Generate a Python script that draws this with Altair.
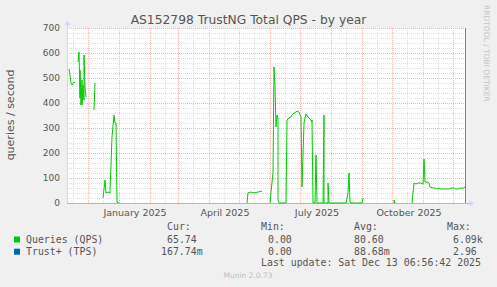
import altair as alt
import pandas as pd

# ---------------- data ----------------
BASE = "2025-01-01"
# days since 2025-01-01 and Queries (QPS) values; None marks a gap (no data)
qps_day = [-50, -49, -48, -47, -45.5, -44.5, -43.5, None,
           -41, -40, -39, -38.3, -37.6, -37, -36.3, -35.6, -35, -34.3, -33.3, -32.6, None,
           -25, -24, None,
           -16, -14, -12.3, -10.6, -9, -8.3, -7, -5, -4, -3, -1.6, 0, None,
           128.4, 129, 132.4, 135, 138.7, 143.4, None,
           151, 152.4, 153.7, 155.2, 156, 156.7, 157.7, 158.7, 159.4, 160, 166.7, 167.7,
           170, 171.7, 173.4, 175, 176.7, 178.4, 180, 181.7, 182.4, 183.4, 184.7, 185.7,
           187.2, 189, 190.7, 192.7, 193.4, 194, 196.4, 197, 197.7, 204, 204.7, 205.4,
           209, 209.4, 210, 226.7, 229, 230, 230.7, 231.7, 243.4, 244, None,
           274.4, 275, 275.7, None,
           292.7, 295, 296.7, 299, 301.7, 303.4, 305, 306, 307.7, 309.4, 311, 313.4,
           315.7, 317.7, 319.7, 321.7, 325, 327.7, 329.7, 331.7, 335, 336.7, 338.7,
           340.7, 343.4, 346.7]
qps_val = [535, 512, 479, 472, 479, 485, 481, None,
           565, 605, 419, 532, 392, 492, 392, 472, 412, 592, 465, 425, None,
           372, 479, None,
           19, 92, 39, 45, 39, 44, 265, 352, 319, 319, 5, 0, None,
           0, 39, 45, 41, 44, 49, None,
           0, 45, 120, 545, 465, 305, 352, 340, 12, 0, 0, 332,
           339, 345, 352, 361, 365, 368, 365, 345, 339, 65, 319, 339,
           357, 345, 335, 325, 332, 0, 0, 192, 0, 0, 352, 0,
           0, 79, 0, 0, 39, 119, 5, 0, 0, 19, None,
           0, 12, 0, None,
           0, 79, 76, 79, 79, 76, 175, 85, 85, 79, 65, 59,
           60, 58, 59, 57, 56, 58, 57, 59, 59, 55, 57,
           59, 61, 65]

series_names = ["Queries (QPS)", "Trust+ (TPS)"]
series_colors = ["#00CC00", "#0066B3"]
cur_vals = ["65.74", "167.74m"]
min_vals = ["0.00", "0.00"]
avg_vals = ["80.60", "88.68m"]
max_vals = ["6.09k", "2.96"]

y_ticks = [0, 100, 200, 300, 400, 500, 600, 700]
y_minor = [v for v in range(20, 700, 20) if v % 100 != 0]
month_starts = ["2024-12-01", "2025-01-01", "2025-02-01", "2025-03-01", "2025-04-01",
                "2025-05-01", "2025-06-01", "2025-07-01", "2025-08-01", "2025-09-01",
                "2025-10-01", "2025-11-01", "2025-12-01"]
mid_months = ["2024-11-16", "2024-12-16", "2025-01-16", "2025-02-16", "2025-03-16",
              "2025-04-16", "2025-05-16", "2025-06-16", "2025-07-16", "2025-08-16",
              "2025-09-16", "2025-10-16", "2025-11-16"]
x_label_dates = ["2025-01-17T12:00:00", "2025-04-17T12:00:00",
                 "2025-07-18T00:00:00", "2025-10-18T00:00:00"]
x_labels = ["January 2025", "April 2025", "July 2025", "October 2025"]

# ---------------- tables ----------------
base = pd.Timestamp(BASE)
rows = []
seg = 0
for d, v in zip(qps_day, qps_val):
    if v is None:
        seg += 1
        continue
    rows.append({"t": (base + pd.Timedelta(days=d)).strftime("%Y-%m-%dT%H:%M:%S"),
                 "v": v, "seg": seg})
qps_df = pd.DataFrame(rows)

W, H = 399, 175
xscale = alt.Scale(domain=[alt.DateTime(year=2024, month=11, date=10, hours=12),
                           alt.DateTime(year=2025, month=12, date=13, hours=18)],
                   round=True)
yscale = alt.Scale(domain=[0, 700], nice=False, zero=True, round=True)
FONT = "DejaVu Sans"
MONO = "DejaVu Sans Mono"
TXT = "#555555"
one = pd.DataFrame({"a": [0]})

GRAY = "#e0e0e0"
RED = "#f2b8b8"
minor_h = alt.Chart(pd.DataFrame({"y": y_minor})).mark_rule(
    color=GRAY, strokeDash=[1, 1], strokeWidth=1, yOffset=0.5).encode(
    y=alt.Y("y:Q", scale=yscale, axis=None))
major_h = alt.Chart(pd.DataFrame({"y": y_ticks[1:]})).mark_rule(
    color=RED, strokeDash=[1, 1], strokeWidth=1, yOffset=0.5).encode(
    y=alt.Y("y:Q", scale=yscale, axis=None))
minor_v = alt.Chart(pd.DataFrame({"t": mid_months})).mark_rule(
    color=GRAY, strokeDash=[1, 1], strokeWidth=1, xOffset=0.5).encode(
    x=alt.X("t:T", scale=xscale, axis=None))
major_v = alt.Chart(pd.DataFrame({"t": month_starts})).mark_rule(
    color=RED, strokeDash=[1, 1], strokeWidth=1, xOffset=0.5).encode(
    x=alt.X("t:T", scale=xscale, axis=None))

left_axis = alt.Chart(one).mark_rule(color="#cfd6f8", strokeWidth=1).encode(
    x=alt.value(0.5), y=alt.value(-5), y2=alt.value(H))
bottom_axis = alt.Chart(one).mark_rule(color="#aab4e6", strokeWidth=1).encode(
    y=alt.value(H + 0.5), x=alt.value(0), x2=alt.value(W + 5))
right_line = alt.Chart(one).mark_rule(color="#808080", strokeWidth=1).encode(
    x=alt.value(W - 0.5), y=alt.value(0), y2=alt.value(H))
up_arrow = alt.Chart(one).mark_point(shape="triangle-up", filled=True, size=30,
                                     color="#cfd6f8", opacity=1).encode(
    x=alt.value(0.5), y=alt.value(-5))
right_arrow = alt.Chart(one).mark_point(shape="triangle-right", filled=True, size=30,
                                        color="#cfd6f8", opacity=1).encode(
    x=alt.value(W + 6), y=alt.value(H + 0.5))

line = alt.Chart(qps_df).mark_line(color="#00CC00", strokeWidth=1).encode(
    x=alt.X("t:T", scale=xscale, axis=None),
    y=alt.Y("v:Q", scale=yscale, axis=None),
    detail="seg:N")

ylabels = alt.Chart(pd.DataFrame({"y": y_ticks})).mark_text(
    align="right", baseline="middle", font=FONT, fontSize=9, color=TXT).encode(
    y=alt.Y("y:Q", scale=yscale, axis=None), x=alt.value(-7), text="y:Q")
xlabels = alt.Chart(pd.DataFrame({"t": x_label_dates, "lab": x_labels})).mark_text(
    align="center", baseline="middle", font=FONT, fontSize=9.5, color=TXT).encode(
    x=alt.X("t:T", scale=xscale, axis=None), y=alt.value(184.7), text="lab:N")

def txt(s, x, y, **kw):
    opts = dict(align="left", baseline="middle", font=FONT, fontSize=10, color=TXT)
    opts.update(kw)
    return alt.Chart(one).mark_text(text=s, **opts).encode(x=alt.value(x), y=alt.value(y))

title = txt("AS152798 TrustNG Total QPS - by year", 181.5, -8.5, align="center", fontSize=12.3)
ytitle = txt("queries / second", -56.5, 87, align="center", angle=270, fontSize=11)
rrd = txt("RRDTOOL / TOBI OETIKER", 419, -23, angle=90, fontSize=7.5, color="#c4c4c4")
munin = txt("Munin 2.0.73", 181, 248, align="center", fontSize=7.5, color="#bdbdbd")

legend_layers = []
for lab, x in zip(["Cur:", "Min:", "Avg:", "Max:"], [167, 261, 354, 447]):
    legend_layers.append(txt(lab, x - 67, 199, font=MONO, fontSize=9.9))
for i, name in enumerate(series_names):
    yy = 211.5 + 12.2 * i
    legend_layers.append(alt.Chart(one).mark_square(size=36, color=series_colors[i],
                                                    opacity=1).encode(
        x=alt.value(-50), y=alt.value(yy)))
    legend_layers.append(txt(name, 26 - 67, yy, font=MONO, fontSize=9.9))
    legend_layers.append(txt(cur_vals[i], (167 if len(cur_vals[i]) < 7 else 161) - 67, yy,
                             font=MONO, fontSize=9.9))
    legend_layers.append(txt(min_vals[i], 268 - 67, yy, font=MONO, fontSize=9.9))
    legend_layers.append(txt(avg_vals[i], 354 - 67, yy, font=MONO, fontSize=9.9))
    legend_layers.append(txt(max_vals[i], 453 - 67, yy, font=MONO, fontSize=9.9))
legend_layers.append(txt("Last update: Sat Dec 13 06:56:42 2025", 261 - 67, 235.3,
                         font=MONO, fontSize=9.9))

chart = alt.layer(
    minor_h, minor_v, major_h, major_v, left_axis, bottom_axis, right_line,
    up_arrow, right_arrow, line, ylabels, xlabels, title, ytitle, rrd, munin,
    *legend_layers
).properties(
    width=W, height=H,
    padding={"left": 67, "top": 28, "right": 31, "bottom": 84},
    autosize=alt.AutoSizeParams(type="none"),
    background="#F0F0F0",
).configure_view(fill="white", stroke=None)

chart.save("out.html", embed_options={"renderer": "svg", "actions": False})
